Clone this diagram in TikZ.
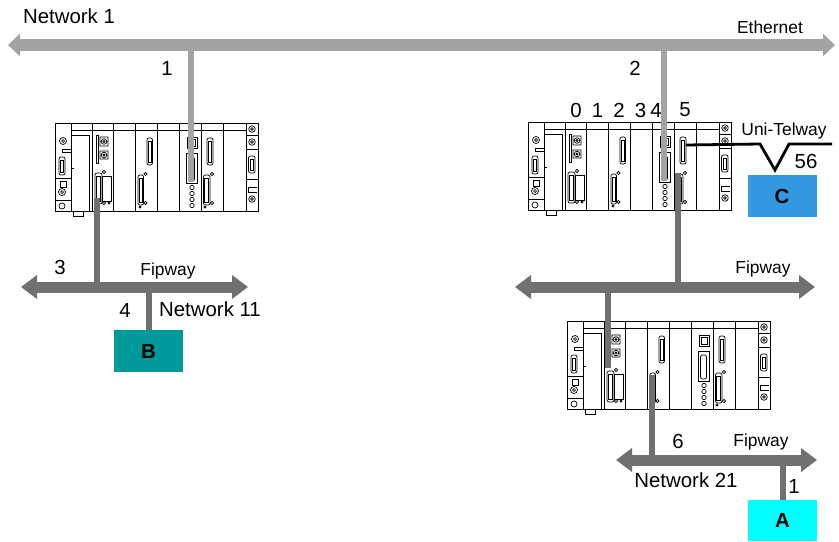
\documentclass[tikz,border=0pt]{standalone}
\usepackage{fontspec}
\setmainfont{Liberation Sans}
\usetikzlibrary{arrows.meta}

\definecolor{ethgray}{RGB}{163,163,163}
\definecolor{fipgray}{RGB}{112,112,112}
\definecolor{boxteal}{RGB}{0,153,153}
\definecolor{boxblue}{RGB}{51,153,224}
\definecolor{boxcyan}{RGB}{0,255,255}

\newcommand{\netfont}{\fontsize{10.2}{12}\selectfont}
\newcommand{\busfont}{\fontsize{8.7}{10}\selectfont}

\tikzset{
  rackline/.style={draw=black, line width=0.35pt},
  ethbus/.style={draw=ethgray, line width=6pt, {Triangle[width=11pt,length=6pt]}-{Triangle[width=11pt,length=6pt]}},
  fipbus/.style={draw=fipgray, line width=5.5pt, {Triangle[width=11.5pt,length=8pt]}-{Triangle[width=11.5pt,length=8pt]}},
  ethdrop/.style={draw=ethgray, line width=3.2pt},
  fipdrop/.style={draw=fipgray, line width=3pt},
  unibus/.style={draw=black, line width=1.4pt},
  devbox/.style={inner sep=0pt, minimum width=34.5pt, minimum height=21pt, font=\netfont\bfseries},
  lbl/.style={inner sep=0pt, font=\netfont},
  buslbl/.style={inner sep=0pt, font=\busfont},
  plcrack/.pic={
    \draw[rackline] (0,0) rectangle (203,88);
    \draw[rackline] (18,88) rectangle (28,93);
    \foreach \sx in {16,37,58,80,102,124,146,168,191}
      \draw[rackline] (\sx,0) -- (\sx,88);
    \draw[rackline] (16,7) -- (191,7);
    % left strip
    \draw[rackline] (8,18) circle (3.5) (8,18) circle (1.5);
    \draw[rackline] (16,26) -- (7,26) -- (7,29) -- (16,29);
    \draw[rackline, rounded corners=1] (4,34) rectangle (10,52);
    \draw[rackline] (5.5,37) rectangle (8.5,49);
    \draw[rackline] (0,55) -- (16,55);
    \draw[rackline] (5,58) rectangle (11,64);
    \draw[rackline] (7,69) circle (3.5) (7,69) circle (1.5);
    \draw[rackline] (0,77) -- (16,77);
    \draw[rackline] (7,83) circle (3);
    % supply
    \draw[rackline] (16,12) -- (34,12) -- (34,88);
    \draw[rackline] (16,45) -- (18.5,45);
    % processor
    \draw[rackline] (41,12) rectangle (43,40);
    \draw[rackline] (45,14) rectangle (53,23) (49,18.5) circle (2.8) (49,18.5) circle (1.2);
    \draw[rackline] (45,28) rectangle (53,36) (49,32) circle (2.8) (49,32) circle (1.2);
    \draw[rackline, rounded corners=1] (40,50) rectangle (47,81);
    \draw[rackline] (41.5,53) rectangle (45.5,78);
    \draw[rackline] (47,53) rectangle (56,78);
    \draw[rackline] (49,49) circle (1.6) (49,80) circle (1.6) (54,80) circle (1.2);
    % module 4
    \draw[rackline, rounded corners=1] (92,15) rectangle (97.5,42);
    \draw[rackline] (93.4,18) rectangle (96.1,39);
    \draw[rackline, rounded corners=1] (83,52) rectangle (88.5,82);
    \draw[rackline] (84.3,55) rectangle (87.2,79);
    \draw[rackline] (90.5,51) circle (1.6) (90.5,80) circle (1.6) (85,84) circle (1.2);
    % module 6
    \draw[rackline] (132,14) rectangle (142,25);
    \draw[rackline] (134,16) rectangle (140,23);
    \draw[rackline] (131,30) rectangle (142,60);
    \draw[rackline, rounded corners=1] (133.5,34) rectangle (139.5,58);
    \foreach \cy in {64.5,70.5,76.5,82.5}
      \draw[rackline] (137,\cy) circle (2.2);
    % module 7
    \draw[rackline, rounded corners=1] (152,15) rectangle (158,42);
    \draw[rackline] (153.4,18) rectangle (156.6,39);
    \draw[rackline, rounded corners=1] (148.5,52) rectangle (155,82);
    \draw[rackline] (149.8,55) rectangle (153.7,79);
    \draw[rackline] (157,51) circle (1.6) (157,80) circle (1.6) (150,84) circle (1.2);
    % right strip
    \draw[rackline] (197,6) circle (3.3) (197,6) circle (1.4);
    \draw[rackline] (191,12) -- (203,12);
    \draw[rackline] (197,19) circle (3.3) (197,19) circle (1.4);
    \draw[rackline] (191,26) -- (203,26);
    \draw[rackline, rounded corners=1] (193.5,33) rectangle (200,50);
    \draw[rackline] (195,36) rectangle (198.5,47);
    \draw[rackline] (191,56) -- (203,56);
    \draw[rackline] (202,64) -- (193,64) -- (193,69) -- (202,69);
    \draw[rackline] (197,76) circle (3.3) (197,76) circle (1.4);
    % ports
    \coordinate (-eth) at (136,59);
    \coordinate (-cpuin) at (41,47);
    \coordinate (-cpuout) at (42,75);
    \coordinate (-fip4) at (85,54);
    \coordinate (-fip7) at (150,51);
    \coordinate (-uni) at (158,23);
  }
}

\begin{document}
\begin{tikzpicture}[x=0.5pt, y=-0.5pt]
  \useasboundingbox (0,0) rectangle (839,541);

  % buses
  \coordinate (ethL) at (8,45);
  \coordinate (ethR) at (835,45);
  \coordinate (fipAL) at (21,287);
  \coordinate (fipAR) at (248,287);
  \coordinate (fipBL) at (515,287);
  \coordinate (fipBR) at (815,287);
  \coordinate (fipCL) at (616,460);
  \coordinate (fipCR) at (817,460);
  \coordinate (uniend) at (832,144);

  % racks
  \pic (rack1) at (55,123) {plcrack};
  \pic (rack2) at (528,122) {plcrack};
  \pic (rack3) at (567,321) {plcrack};

  % devices
  \node[devbox, fill=boxteal] (boxB) at (148.5,351) {B};
  \node[devbox, fill=boxblue] (boxC) at (782,196) {C};
  \node[devbox, fill=boxcyan, minimum height=20.5pt] (boxA) at (782.5,520.5) {A};

  % Ethernet
  \draw[ethbus] (ethL) -- (ethR);
  \draw[ethdrop] (rack1-eth |- ethL) -- (rack1-eth);
  \draw[ethdrop] (rack2-eth |- ethL) -- (rack2-eth);

  % Fipway
  \draw[fipbus] (fipAL) -- (fipAR);
  \draw[fipbus] (fipBL) -- (fipBR);
  \draw[fipbus] (fipCL) -- (fipCR);
  \draw[fipdrop] (rack1-cpuout) -- (rack1-cpuout |- fipAL);
  \draw[fipdrop] (boxB.north) -- (boxB.north |- fipAL);
  \draw[fipdrop] (rack2-fip7) -- (rack2-fip7 |- fipBL);
  \draw[fipdrop] (rack3-cpuin |- fipBL) -- (rack3-cpuin);
  \draw[fipdrop] (rack3-fip4) -- (rack3-fip4 |- fipCL);
  \draw[fipdrop] (boxA.north) -- (boxA.north |- fipCL);

  % Uni-Telway
  \draw[unibus] (rack2-uni) -- (760,144) -- (775,170) -- (789,144) -- (uniend);

  % labels
  \node[lbl] (net1) at (69,16) {Network 1};
  \node[buslbl] (ethlbl) at (770,27) {Ethernet};
  \node[lbl] (n1a) at (167,68) {1};
  \node[lbl] (n2a) at (635,68) {2};
  \node[lbl] (s0) at (576,110) {0};
  \node[lbl] (s1) at (597.5,110) {1};
  \node[lbl] (s2) at (619,110) {2};
  \node[lbl] (s3) at (640.5,110) {3};
  \node[lbl] (s4) at (656,110) {4};
  \node[lbl] (s5) at (685,110) {5};
  \node[buslbl] (unilbl) at (784,131) {Uni-Telway};
  \node[lbl] (n56) at (806,161) {56};
  \node[lbl] (n3) at (60,267) {3};
  \node[buslbl] (fipA) at (168,271) {Fipway};
  \node[lbl] (n4) at (125,310) {4};
  \node[lbl] (net11) at (210,309) {Network 11};
  \node[buslbl] (fipB) at (763,269) {Fipway};
  \node[lbl] (n6) at (678,441) {6};
  \node[buslbl] (fipC) at (761,442) {Fipway};
  \node[lbl] (net21) at (686,480) {Network 21};
  \node[lbl] (n1b) at (794,486) {1};
\end{tikzpicture}
\end{document}
